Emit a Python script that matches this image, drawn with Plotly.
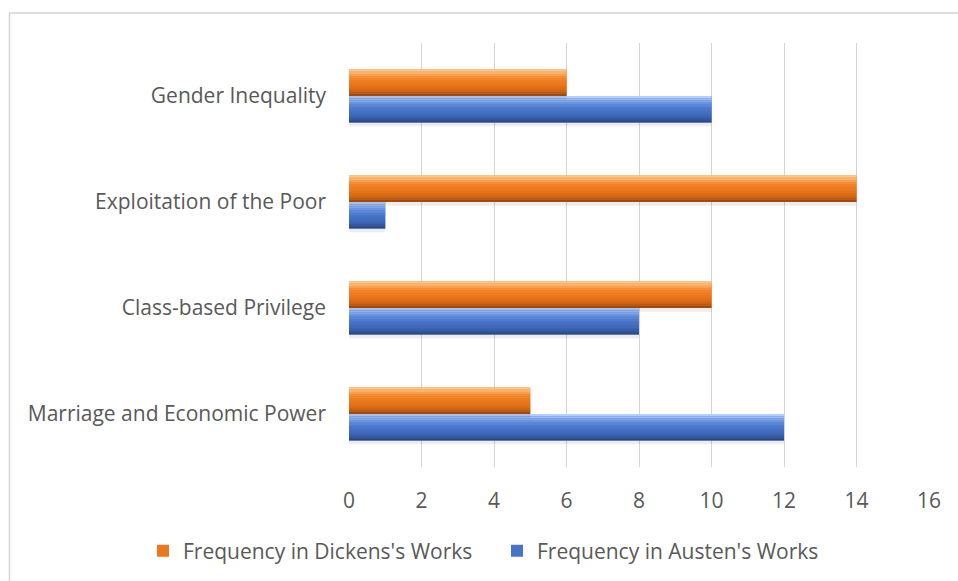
import plotly.graph_objects as go

categories = ["Marriage and Economic Power", "Class-based Privilege",
              "Exploitation of the Poor", "Gender Inequality"]
dickens = [5, 10, 14, 6]
austen = [12, 8, 1, 10]
x_ticks = [0, 2, 4, 6, 8, 10, 12, 14, 16]

FONT = "Open Sans"
TXT = "#595959"
GRID = "#d4d4d4"

# vertical gradient (top -> bottom) to imitate the bevelled look
orange_grad = ["#fcc88a", "#fab36a", "#f7a050", "#f4903a", "#f2852a",
               "#ef7d20", "#eb781c", "#e5731a", "#dc6c18", "#cf6415",
               "#bb5912", "#9f4b10"]
blue_grad = ["#b3cffa", "#98bbf4", "#7ea6ea", "#6891de", "#5a84d5",
             "#4f7bcf", "#4874c8", "#436fc2", "#3f69ba", "#3a62af",
             "#33589e", "#2a4986"]

fig = go.Figure()

W = 0.25  # width of each bar slot in category units
series = [
    ("Frequency in Austen's Works", austen, blue_grad, -W, 2),
    ("Frequency in Dickens's Works", dickens, orange_grad, 0.0, 1),
]

for name, vals, grad, off, rank in series:
    # soft shadow
    fig.add_trace(go.Bar(
        y=categories, x=vals, orientation="h", base=0,
        offset=off - 0.035, width=W,
        marker=dict(color="rgba(0,0,0,0.07)", line=dict(width=0)),
        showlegend=False, hoverinfo="skip"))
    # main bar (legend entry)
    fig.add_trace(go.Bar(
        y=categories, x=vals, orientation="h", name=name,
        offset=off, width=W, legendrank=rank,
        marker=dict(color=grad[6], line=dict(width=0))))
    n = len(grad)
    for i, c in enumerate(grad):
        fig.add_trace(go.Bar(
            y=categories, x=vals, orientation="h",
            offset=off + W - (i + 1) * W / n, width=W / n,
            marker=dict(color=c, line=dict(width=0)),
            showlegend=False, hoverinfo="skip"))

fig.update_layout(
    width=958, height=581,
    margin=dict(l=349, r=29, t=43, b=114, autoexpand=False),
    paper_bgcolor="white", plot_bgcolor="white",
    barmode="overlay",
    font=dict(family=FONT, size=21, color=TXT),
    xaxis=dict(range=[0, 16], tickvals=x_ticks, showgrid=True,
               gridcolor=GRID, gridwidth=1.3, zeroline=False, showline=False,
               ticks="", ticklabelstandoff=19,
               tickfont=dict(family=FONT, size=21, color=TXT), fixedrange=True),
    yaxis=dict(categoryorder="array", categoryarray=categories,
               showgrid=False, zeroline=False, showline=False, ticks="",
               ticklabelstandoff=22,
               tickfont=dict(family=FONT, size=21, color=TXT)),
    legend=dict(orientation="h", x=(143 - 349) / 580, xanchor="left",
                y=(467 - 551) / 424, yanchor="middle",
                font=dict(family=FONT, size=21, color=TXT),
                bgcolor="rgba(0,0,0,0)", entrywidth=309),
    showlegend=True,
    shapes=[dict(type="rect", xref="paper", yref="paper",
                 x0=(9.5 - 349) / 580, x1=1.3,
                 y0=-0.6, y1=(467 - 13) / 424,
                 line=dict(color=GRID, width=1.5), fillcolor="rgba(0,0,0,0)",
                 layer="below")],
)

fig.write_html("out.html")
